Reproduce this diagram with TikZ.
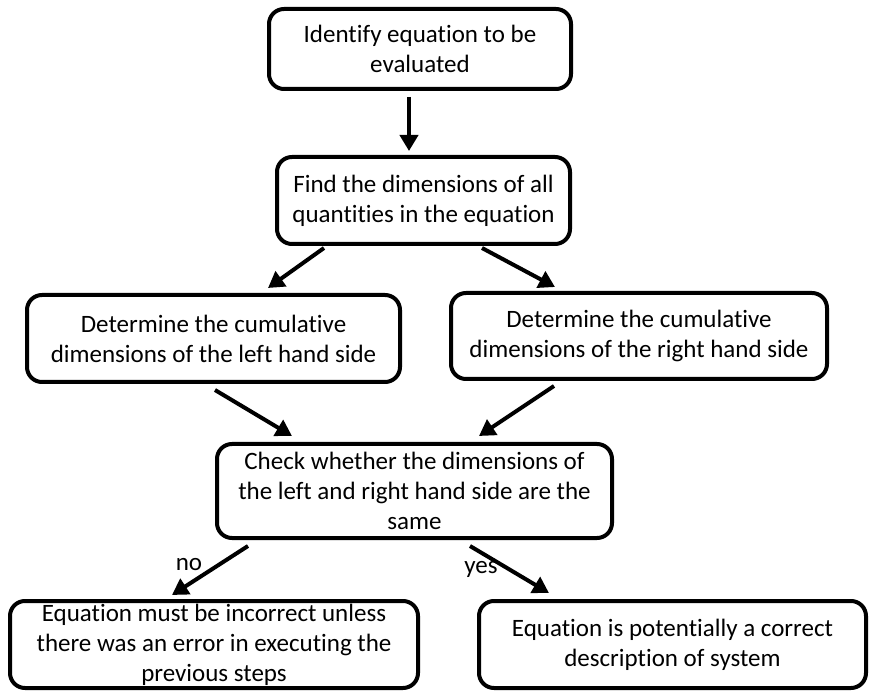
\documentclass[tikz,border=0pt]{standalone}
\usepackage{fontspec}
\setmainfont{Carlito}[Ligatures=NoCommon]
\usepackage{tikz}
\usetikzlibrary{arrows.meta,positioning}

\tikzset{
  stagebox/.style={draw, line width=4pt, rounded corners=15pt, align=center, inner sep=0pt,
    font=\fontsize{25}{30}\selectfont},
  flow/.style={line width=4pt, -{Triangle[length=16pt,width=18pt]}},
  answer/.style={inner sep=0pt, font=\fontsize{25}{30}\selectfont}
}

\begin{document}
\begin{tikzpicture}[x=1pt,y=-1pt]
  \useasboundingbox (0,0) rectangle (876,692);
  \node[stagebox, minimum width=302pt, minimum height=80pt] (ident) at (420,49)
    {Identify equation to be\\evaluated};
  \node[stagebox, minimum width=293pt, minimum height=87pt] (finddim) at (423.5,200.5)
    {Find the dimensions of all\\quantities in the equation};
  \node[stagebox, minimum width=373pt, minimum height=87pt] (lhs) at (213.5,338.5)
    {Determine the cumulative\\dimensions of the left hand side};
  \node[stagebox, minimum width=376pt, minimum height=86pt] (rhs) at (639,336)
    {Determine the cumulative\\dimensions of the right hand side};
  \node[stagebox, minimum width=395pt, minimum height=94pt] (check) at (414.5,491)
    {Check whether the dimensions of\\the left and right hand side are the\\same};
  \node[stagebox, minimum width=408pt, minimum height=87pt] (wrong) at (214,644.5)
    {Equation must be incorrect unless\\there was an error in executing the\\previous steps};
  \node[stagebox, minimum width=387pt, minimum height=87pt] (right) at (672.5,644.5)
    {Equation is potentially a correct\\description of system};

  \draw[flow] ([shift={(-11,6)}]ident.south) -- ([shift={(-14.5,-4)}]finddim.north);
  \draw[flow] ([shift={(-99.5,2)}]finddim.south) -- ([shift={(54.5,-5)}]lhs.north);
  \draw[flow] ([shift={(58.5,2)}]finddim.south) -- ([shift={(-84,-4)}]rhs.north);
  \draw[flow] ([shift={(1.5,6)}]lhs.south) -- ([shift={(-122.5,-6)}]check.north);
  \draw[flow] ([shift={(-85,5)}]rhs.south) -- ([shift={(64.5,-6)}]check.north);
  \draw[flow] ([shift={(-166.5,6)}]check.south) -- node[answer, pos=0.38, left=15pt] (no) {no}
    ([shift={(-42,-4)}]wrong.north);
  \draw[flow] ([shift={(55.5,6)}]check.south) -- node[answer, pos=0.5, left=10pt] (yes) {yes}
    ([shift={(-123.5,-6)}]right.north);
\end{tikzpicture}
\end{document}
